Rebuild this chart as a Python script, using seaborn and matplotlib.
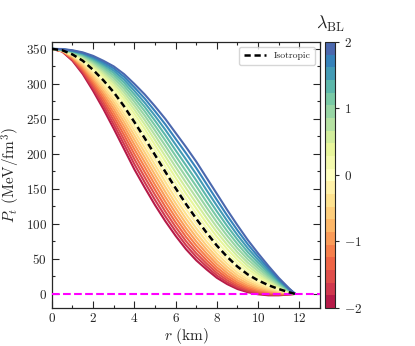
import matplotlib
matplotlib.use('Agg')
import matplotlib.pyplot as plt
import numpy as np
import pandas as pd
import seaborn as sns
from matplotlib.ticker import MultipleLocator
from matplotlib.colors import Normalize, ListedColormap

# radial grid (km)
r_km = [0, 0.5, 1, 1.5, 2, 2.5, 3, 3.5, 4, 4.5, 5, 5.5, 6, 6.5, 7, 7.5,
        8, 8.5, 9, 9.5, 10, 10.5, 11, 11.5, 11.8]

# anisotropy parameter values (one curve each)
lambda_bl = [-2.0, -1.8, -1.6, -1.4, -1.2, -1.0, -0.8, -0.6, -0.4, -0.2, 0.0,
             0.2, 0.4, 0.6, 0.8, 1.0, 1.2, 1.4, 1.6, 1.8, 2.0]

# tangential pressure P_t (MeV/fm^3), one row per lambda
pt_curves = [
    [350, 346.2, 333, 314, 290, 264, 236, 207, 178, 152, 127, 104, 83, 64, 48, 35, 23, 14, 7, 2.5, -0.5, -2, -2, -0.8, 0],
    [350, 346.4, 334, 316.2, 293.5, 268.7, 241.9, 213.8, 185.3, 159.4, 134.2, 110.8, 89.3, 69.7, 53, 39.1, 26.3, 16.6, 9, 3.9, 0.6, -1.1, -1.4, -0.6, 0],
    [350, 346.6, 335, 318.4, 296.8, 273.2, 247.6, 220.4, 192.5, 166.7, 141.5, 117.7, 95.7, 75.5, 58.1, 43.4, 30, 19.6, 11.2, 5.6, 1.9, -0.1, -0.8, -0.4, 0],
    [350, 346.8, 336, 320.4, 300, 277.7, 253.2, 226.9, 199.6, 174, 148.7, 124.6, 102.2, 81.6, 63.5, 48, 33.9, 22.8, 13.8, 7.6, 3.4, 1, 0, -0.1, 0],
    [350, 346.9, 337, 322.4, 303.2, 282, 258.6, 233.2, 206.6, 181.2, 155.8, 131.6, 108.9, 87.8, 69.2, 52.9, 38, 26.2, 16.6, 9.7, 5.1, 2.2, 0.8, 0.2, 0],
    [350, 347.1, 337.9, 324.4, 306.3, 286.1, 263.9, 239.4, 213.4, 188.3, 163, 138.6, 115.6, 94.1, 75, 58, 42.5, 30, 19.6, 12.1, 7, 3.6, 1.6, 0.5, 0],
    [350, 347.3, 338.8, 326.2, 309.2, 290.2, 269, 245.4, 220.1, 195.3, 170.1, 145.7, 122.5, 100.7, 81.1, 63.4, 47.2, 34, 23, 14.8, 9.1, 5.1, 2.6, 0.8, 0],
    [350, 347.5, 339.6, 328, 312, 294.1, 274, 251.3, 226.6, 202.2, 177.3, 152.8, 129.4, 107.4, 87.3, 69, 52.3, 38.4, 26.6, 17.7, 11.3, 6.8, 3.6, 1.1, 0],
    [350, 347.7, 340.4, 329.8, 314.8, 297.8, 278.8, 257, 233, 209, 184.4, 160, 136.5, 114.2, 93.8, 74.9, 57.6, 43, 30.4, 20.8, 13.8, 8.6, 4.6, 1.5, 0],
    [350, 347.8, 341.2, 331.4, 317.5, 301.5, 283.5, 262.6, 239.3, 215.8, 191.4, 167.2, 143.7, 121.3, 100.6, 81.1, 63.1, 47.8, 34.6, 24.1, 16.4, 10.5, 5.8, 1.9, 0],
    [350, 348, 342, 333, 320, 305, 288, 268, 245.5, 222.5, 198.5, 174.5, 151, 128.5, 107.5, 87.5, 69, 53, 39, 27.8, 19.3, 12.5, 7, 2.4, 0],
    [350, 348.2, 342.7, 334.5, 322.5, 308.4, 292.4, 273.3, 251.5, 229.1, 205.5, 181.8, 158.4, 135.9, 114.7, 94.2, 75.1, 58.4, 43.7, 31.6, 22.3, 14.7, 8.3, 2.8, 0],
    [350, 348.3, 343.4, 336, 324.8, 311.6, 296.6, 278.4, 257.4, 235.6, 212.6, 189.2, 165.9, 143.4, 122, 101.1, 81.6, 64.2, 48.6, 35.7, 25.5, 17, 9.6, 3.3, 0],
    [350, 348.5, 344.1, 337.3, 327, 314.8, 300.7, 283.4, 263.2, 242.1, 219.6, 196.6, 173.5, 151.2, 129.6, 108.3, 88.3, 70.2, 53.9, 40, 28.9, 19.4, 11.1, 3.8, 0],
    [350, 348.7, 344.8, 338.6, 329.2, 317.8, 304.6, 288.2, 268.9, 248.5, 226.5, 204.1, 181.3, 159.1, 137.5, 115.8, 95.2, 76.4, 59.4, 44.6, 32.5, 21.9, 12.6, 4.3, 0],
    [350, 348.9, 345.4, 339.9, 331.3, 320.6, 308.4, 292.9, 274.4, 254.8, 233.5, 211.6, 189.1, 167.1, 145.5, 123.5, 102.5, 83, 65.1, 49.4, 36.3, 24.6, 14.1, 4.9, 0],
    [350, 349.1, 346, 341, 333.2, 323.4, 312, 297.4, 279.8, 261, 240.4, 219.2, 197.1, 175.4, 153.8, 131.5, 110, 89.8, 71.2, 54.4, 40.2, 27.4, 15.8, 5.4, 0],
    [350, 349.2, 346.5, 342.1, 335, 326, 315.5, 301.8, 285, 267.1, 247.4, 226.8, 205.1, 183.8, 162.2, 139.7, 117.9, 97, 77.5, 59.7, 44.4, 30.4, 17.5, 6, 0],
    [350, 349.4, 347, 343.2, 336.8, 328.4, 318.8, 306, 290.1, 273.1, 254.3, 234.5, 213.3, 192.3, 171, 148.2, 126, 104.4, 84, 65.2, 48.7, 33.5, 19.2, 6.7, 0],
    [350, 349.6, 347.5, 344.1, 338.5, 330.8, 322, 310.1, 295.1, 279.1, 261.1, 242.2, 221.6, 201.1, 179.9, 157, 134.3, 112, 90.9, 71, 53.3, 36.7, 21.1, 7.3, 0],
    [350, 349.8, 348, 345, 340, 333, 325, 314, 300, 285, 268, 250, 230, 210, 189, 166, 143, 120, 98, 77, 58, 40, 23, 8, 0],
]

# isotropic case
pt_iso = [350, 348, 342, 333, 320, 305, 288, 268, 245.5, 222.5, 198.5, 174.5, 151, 128.5,
          107.5, 87.5, 69, 53, 39, 27.8, 19.3, 12.5, 7, 2.4, 0]

sns.set_style('ticks')
plt.rcParams['font.family'] = 'serif'
plt.rcParams['font.serif'] = ['cmr10']
plt.rcParams['mathtext.fontset'] = 'cm'
plt.rcParams['axes.formatter.use_mathtext'] = True

rows = []
for lam, vals in zip(lambda_bl, pt_curves):
    for r, p in zip(r_km, vals):
        rows.append((r, p, lam))
df = pd.DataFrame(rows, columns=['r', 'P', 'lam'])

colors = sns.color_palette('Spectral', len(lambda_bl))
cmap = ListedColormap(colors)
norm = Normalize(vmin=-2, vmax=2)
palette = {lam: c for lam, c in zip(lambda_bl, colors)}

fig = plt.figure(figsize=(4.15, 3.46), dpi=100)
ax = fig.add_axes([0.125, 0.110, 0.646, 0.769])

sns.lineplot(data=df, x='r', y='P', hue='lam', palette=palette, legend=False,
             estimator=None, sort=False, lw=1.5, ax=ax)
ax.plot(r_km, pt_iso, color='black', ls='--', lw=1.8, dashes=(2.5, 1.5),
        label='Isotropic', zorder=5)
ax.axhline(0, color='magenta', ls='--', lw=1.5, zorder=4)

ax.set_xlim(0, 13)
ax.set_ylim(-20, 360)
ax.set_xticks(range(0, 13, 2))
ax.set_yticks(range(0, 351, 50))
ax.xaxis.set_minor_locator(MultipleLocator(1))
ax.yaxis.set_minor_locator(MultipleLocator(25))
ax.tick_params(which='both', direction='in', top=True, right=True, labelsize=9.5)
ax.tick_params(which='major', length=5, width=0.8)
ax.tick_params(which='minor', length=2.5, width=0.8)
ax.tick_params(axis='x', pad=3)
ax.set_xlabel(r'$r\ (\mathrm{km})$', fontsize=11)
ax.set_ylabel(r'$P_t\ (\mathrm{MeV/fm^3})$', fontsize=11)
ax.xaxis.set_label_coords(0.5, -0.066)
ax.yaxis.set_label_coords(-0.11, 0.5)
for s in ax.spines.values():
    s.set_linewidth(0.9)

ax.legend(loc='upper right', fontsize=7, frameon=True, fancybox=True,
          handlelength=2.2, borderpad=0.5)

cax = fig.add_axes([0.783, 0.110, 0.024, 0.769])
sm = plt.cm.ScalarMappable(cmap=cmap, norm=norm)
cb = fig.colorbar(sm, cax=cax, ticks=[-2, -1, 0, 1, 2])
cb.ax.minorticks_off()
cb.ax.tick_params(direction='out', length=3, width=0.8, labelsize=9.5)
cb.outline.set_linewidth(0.8)
cax.set_title(r'$\lambda_{\rm BL}$', fontsize=13, pad=9)

fig.savefig('out.png', dpi=100)
